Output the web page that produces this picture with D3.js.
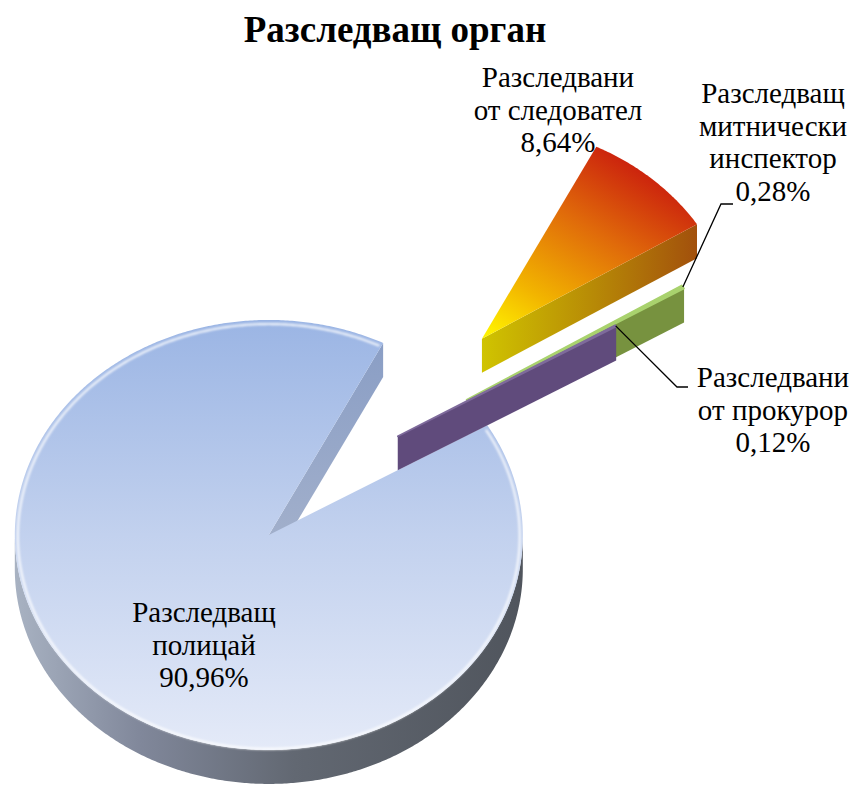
<!DOCTYPE html>
<html><head><meta charset="utf-8">
<script src="https://cdn.jsdelivr.net/npm/d3@7"></script>
<style>
html,body{margin:0;padding:0;background:#fff;}
#wrap{position:relative;width:853px;height:785px;}
svg{display:block;position:absolute;left:0;top:0;}
.lbl{position:absolute;white-space:nowrap;text-align:center;transform:translateX(-50%);
  font-family:"Liberation Serif","Times New Roman",serif;font-weight:400;color:#000;}
</style>
</head><body>
<div id="wrap"><svg id="chart" width="853" height="785"></svg></div>
<script>
// ---------------- data ----------------
const title = "Разследващ орган";
const categories = ["Разследващ полицай", "Разследвани от следовател", "Разследващ митнически инспектор", "Разследвани от прокурор"];
const labelLines = [["Разследващ", "полицай"], ["Разследвани", "от следовател"], ["Разследващ", "митнически", "инспектор"], ["Разследвани", "от прокурор"]];
const values = [90.96, 8.64, 0.28, 0.12];
const valueLabels = ["90,96%", "8,64%", "0,28%", "0,12%"];

// ---------------- layout / style ----------------
const geo = { cx: 352, cy: 459.5, rx: 254, ry: 215, depth: 34, startDeg: 59.3 };
const explode = [0.48, 0.76, 0.53, 0.21];
const labelPos = [[204, 622], [558, 87], [773, 103], [773, 387]];
const lineH = 32.8;
const labelSize = 29, titleSize = 37;
const baselineOffset = 26.2;
const leaders = [null, null, { elbow: [721, 204], end: [733, 204] }, { elbow: [677, 387], end: [688, 387] }];
const styles = [
  { top: "gMainTop", side: "gMainSide", wall: "gMainWall", edge: null, highlight: true },
  { top: "gOrTop", side: "gOrSide", wall: "gOrSide", edge: null },
  { top: "#a9d26e", side: "#77923f", wall: "#77923f", edge: "#a9d26e" },
  { top: "#8b78a6", side: "#604b7c", wall: "#604b7c", edge: "#7e6a9b" }
];

const svg = d3.select("#chart");
const defs = svg.append("defs");
function lin(id, x1, y1, x2, y2, stops) {
  const g = defs.append("linearGradient").attr("id", id)
    .attr("x1", x1).attr("y1", y1).attr("x2", x2).attr("y2", y2);
  stops.forEach(s => g.append("stop").attr("offset", s[0]).attr("stop-color", s[1]));
}
lin("gMainTop", 0, 0, 0, 1, [[0, "#9bb5e4"], [0.5, "#c2d1ee"], [1, "#e4eaf8"]]);
lin("gMainSide", 0, 0, 1, 0, [[0, "#a8b2c2"], [0.25, "#80879a"], [0.55, "#626872"], [1, "#50555d"]]);
lin("gMainWall", 0, 0, 0, 1, [[0, "#8a9ec5"], [1, "#a5b2cc"]]);
lin("gOrTop", 0.75, 0, 0.05, 1, [[0, "#c6100e"], [0.4, "#e06a0a"], [0.75, "#f2b400"], [1, "#fff300"]]);
lin("gOrSide", 0, 0, 1, 0, [[0, "#d0c400"], [0.5, "#b88c06"], [1, "#a2500c"]]);
const blur = defs.append("filter").attr("id", "soft").attr("x", "-5%").attr("y", "-5%").attr("width", "110%").attr("height", "110%");
blur.append("feGaussianBlur").attr("stdDeviation", 0.9);

const fill = s => (s.startsWith("#") ? s : `url(#${s})`);

const pie = d3.pie().sort(null).value(d => d)
  .startAngle(geo.startDeg * Math.PI / 180)
  .endAngle(geo.startDeg * Math.PI / 180 + 2 * Math.PI);
const arcs = pie(values);

function origin(a) {
  const mid = (a.startAngle + a.endAngle) / 2, e = explode[a.index];
  return [geo.cx + e * geo.rx * Math.sin(mid), geo.cy - e * geo.ry * Math.cos(mid)];
}
function pt(o, t, r, z) { return [o[0] + geo.rx * r * Math.sin(t), o[1] - geo.ry * r * Math.cos(t) + z]; }
function arcPts(o, a, b, r, z) {
  const n = Math.max(2, Math.ceil(Math.abs(b - a) / (Math.PI / 360)));
  return d3.range(n + 1).map(i => pt(o, a + (b - a) * i / n, r, z));
}
const line = d3.line();
const closed = p => line(p) + "Z";

const g = svg.append("g");
arcs.forEach(a => {
  const s = styles[a.index], o = origin(a), h = geo.depth;
  const a0 = a.startAngle, a1 = a.endAngle;
  const sg = g.append("g").attr("class", "slice");
  if (Math.sin(a0) < 0) sg.append("path").attr("d", closed([pt(o, a0, 0, 0), pt(o, a0, 1, 0), pt(o, a0, 1, h), pt(o, a0, 0, h)])).attr("fill", fill(s.wall));
  if (Math.sin(a1) > 0) sg.append("path").attr("d", closed([pt(o, a1, 0, 0), pt(o, a1, 1, 0), pt(o, a1, 1, h), pt(o, a1, 0, h)])).attr("fill", fill(s.wall));
  [0, 1].forEach(k => {
    const lo = Math.max(a0, Math.PI / 2 + 2 * Math.PI * k), hi = Math.min(a1, 3 * Math.PI / 2 + 2 * Math.PI * k);
    if (hi > lo) {
      const topP = arcPts(o, lo, hi, 1, 0), botP = arcPts(o, hi, lo, 1, h);
      sg.append("path").attr("d", closed(topP.concat(botP))).attr("fill", fill(s.side));
    }
  });
  const topFace = [pt(o, a0, 0, 0)].concat(arcPts(o, a0, a1, 1, 0));
  const tp = sg.append("path").attr("d", closed(topFace)).attr("fill", fill(s.top));
  if (s.edge) tp.attr("stroke", s.edge).attr("stroke-width", 1.6).attr("stroke-linejoin", "round");
  if (s.highlight) {
    sg.append("path").attr("d", line(arcPts(o, a0 + 0.01, a1 - 0.01, 0.988, 1.5)))
      .attr("fill", "none").attr("stroke", "#ffffff").attr("stroke-width", 2.2)
      .attr("stroke-opacity", 0.85).attr("filter", "url(#soft)");
  }
});

arcs.forEach(a => {
  const L = leaders[a.index];
  if (!L) return;
  const o = origin(a), mid = (a.startAngle + a.endAngle) / 2;
  const p0 = pt(o, mid, 1, 0);
  svg.append("path").attr("d", line([p0, L.elbow, L.end])).attr("fill", "none")
    .attr("stroke", "#000").attr("stroke-width", 1.3);
});

// data labels as HTML text over the chart
const wrap = d3.select("#wrap");
arcs.forEach(a => {
  const [x, y] = labelPos[a.index];
  const div = wrap.append("div").attr("class", "lbl")
    .style("left", x + "px").style("top", (y - baselineOffset) + "px")
    .style("font-size", labelSize + "px").style("line-height", lineH + "px");
  labelLines[a.index].concat([valueLabels[a.index]]).forEach(ln => div.append("div").text(ln));
});

svg.append("text").attr("x", 395).attr("y", 42).attr("text-anchor", "middle")
  .style("font", `normal 700 ${titleSize}px "Liberation Serif", "Times New Roman", serif`)
  .attr("fill", "#000").text(title);
</script>
</body></html>
